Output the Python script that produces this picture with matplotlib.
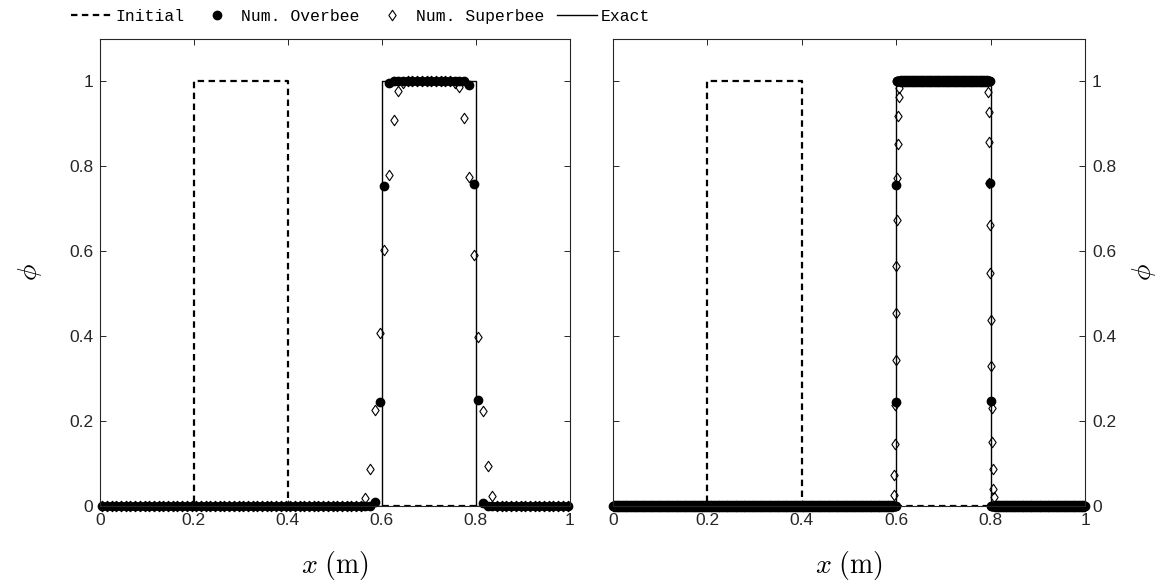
import numpy as np
import matplotlib
matplotlib.use("Agg")
import matplotlib.pyplot as plt
from matplotlib.path import Path

plt.rcParams["mathtext.fontset"] = "cm"
plt.rcParams["font.family"] = ["Liberation Sans", "DejaVu Sans"]

# ---- data -------------------------------------------------------------
# initial and exact (advected) top-hat profiles
initial_x = [0.0, 0.2, 0.2, 0.4, 0.4, 1.0]
initial_phi = [0.0, 0.0, 1.0, 1.0, 0.0, 0.0]
exact_x = [0.0, 0.6, 0.6, 0.8, 0.8, 1.0]
exact_phi = [0.0, 0.0, 1.0, 1.0, 0.0, 0.0]

# coarse mesh: 100 cells
n_coarse = 100
overbee_coarse_left_start = 58
overbee_coarse_left = [0.010, 0.245, 0.754, 0.997]
overbee_coarse_right_start = 78
overbee_coarse_right = [0.992, 0.759, 0.250, 0.008]
superbee_coarse_left_start = 56
superbee_coarse_left = [0.018, 0.086, 0.225, 0.408, 0.604, 0.779, 0.908, 0.978, 0.997]
superbee_coarse_right_start = 75
superbee_coarse_right = [0.997, 0.986, 0.915, 0.775, 0.592, 0.397, 0.223, 0.094, 0.023]

# fine mesh: 1000 cells
n_fine = 1000
overbee_fine_left_start = 599
overbee_fine_left = [0.245, 0.755]
overbee_fine_right_start = 799
overbee_fine_right = [0.760, 0.248]
superbee_fine_left_start = 594
superbee_fine_left = [0.027, 0.073, 0.145, 0.237, 0.343, 0.454, 0.566,
                      0.674, 0.773, 0.853, 0.918, 0.963, 0.985]
superbee_fine_right_start = 794
superbee_fine_right = [0.974, 0.927, 0.857, 0.761, 0.661, 0.549, 0.437,
                       0.329, 0.231, 0.150, 0.086, 0.040, 0.022]

tick_values = [0, 0.2, 0.4, 0.6, 0.8, 1]
tick_labels = ["0", "0.2", "0.4", "0.6", "0.8", "1"]


def cell_centres(n):
    return (np.arange(n) + 0.5) / n


def profile(n, left_start, left_vals, right_start, right_vals):
    """Zero outside the pulse, one on its plateau, listed values at the fronts."""
    phi = np.zeros(n)
    phi[left_start + len(left_vals):right_start] = 1.0
    phi[left_start:left_start + len(left_vals)] = left_vals
    phi[right_start:right_start + len(right_vals)] = right_vals
    return phi


panels = [
    (cell_centres(n_coarse),
     profile(n_coarse, overbee_coarse_left_start, overbee_coarse_left,
             overbee_coarse_right_start, overbee_coarse_right),
     profile(n_coarse, superbee_coarse_left_start, superbee_coarse_left,
             superbee_coarse_right_start, superbee_coarse_right)),
    (cell_centres(n_fine),
     profile(n_fine, overbee_fine_left_start, overbee_fine_left,
             overbee_fine_right_start, overbee_fine_right),
     profile(n_fine, superbee_fine_left_start, superbee_fine_left,
             superbee_fine_right_start, superbee_fine_right)),
]

# ---- figure -----------------------------------------------------------
diamond = Path([(0, 1), (0.7, 0), (0, -1), (-0.7, 0), (0, 1)],
               [Path.MOVETO, Path.LINETO, Path.LINETO, Path.LINETO, Path.CLOSEPOLY])

fig = plt.figure(figsize=(11.69, 5.86), dpi=100)
axes = [fig.add_axes([0.0855, 0.1365, 0.402, 0.797]),
        fig.add_axes([0.5244, 0.1365, 0.4038, 0.797])]

axis_color = "#262626"
for i, (ax, (xc, ob, sb)) in enumerate(zip(axes, panels)):
    ax.plot(initial_x, initial_phi, color="black", lw=1.6,
            linestyle=(0, (2.9, 2.0)), label="Initial")
    ax.plot(xc, ob, linestyle="none", marker="o", ms=6.0, color="black",
            label="Num. Overbee", clip_on=False)
    ax.plot(xc, sb, linestyle="none", marker=diamond, ms=7.5,
            markerfacecolor="none", markeredgecolor="black", mew=0.8,
            label="Num. Superbee", clip_on=False)
    ax.plot(exact_x, exact_phi, color="black", lw=1.0, label="Exact")

    ax.set_xlim(0, 1)
    ax.set_ylim(0, 1.1)
    ax.set_xticks(tick_values)
    ax.set_xticklabels(tick_labels)
    ax.set_yticks(tick_values)
    ax.set_yticklabels(tick_labels)
    ax.tick_params(direction="in", length=4, width=0.7, colors=axis_color,
                   labelsize=12.5, pad=5, top=True, right=True, bottom=True,
                   left=True)
    for s in ax.spines.values():
        s.set_color(axis_color)
        s.set_linewidth(0.8)
    ax.set_xlabel(r"$x\ \mathrm{(m)}$", fontsize=20, labelpad=15)
    if i == 0:
        ax.set_ylabel(r"$\phi$", fontsize=20, labelpad=18)
    else:
        ax.yaxis.set_label_position("right")
        ax.yaxis.tick_right()
        ax.tick_params(axis="y", left=True, right=True, labelleft=False,
                       labelright=True)
        ax.set_ylabel(r"$\phi$", fontsize=20, labelpad=10)

handles, labels = axes[0].get_legend_handles_labels()
fig.legend(handles, labels, loc="center left", bbox_to_anchor=(0.061, 0.972),
           ncol=4, frameon=False, prop={"family": "Liberation Mono", "size": 11.8},
           handlelength=2.45, handletextpad=0.25, columnspacing=0.75,
           borderpad=0, borderaxespad=0, numpoints=1)

fig.savefig("out.png", dpi=100)
